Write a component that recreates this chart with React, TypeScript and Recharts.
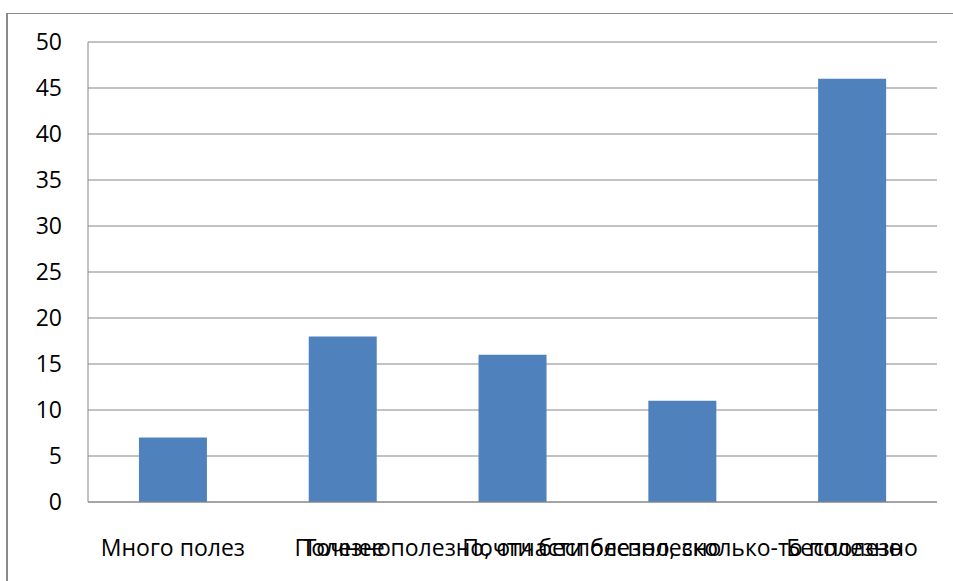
import React from "react";
import { BarChart, Bar, XAxis, YAxis, CartesianGrid } from "recharts";

// Category labels along the horizontal axis
const categories = [
  "Много полез",
  "Полезно",
  "Точнее полезно, отчасти бесполезно",
  "Почти бесполезно, сколько-то полезно",
  "Бесполезно",
];

// Bar heights per category
const values = [7, 18, 16, 11, 46];

// Value axis ticks
const yTicks = [0, 5, 10, 15, 20, 25, 30, 35, 40, 45, 50];

const data = categories.map((name, i) => ({ name, value: values[i] }));

const FONT = "'Open Sans', 'Noto Sans', sans-serif";
const AXIS = "#868686";

export default function App() {
  return (
    <div
      style={{
        position: "fixed",
        left: 0,
        top: 0,
        width: 953,
        height: 581,
        overflow: "hidden",
        background: "#ffffff",
      }}
    >
      <div
        style={{
          position: "absolute",
          left: 6,
          top: 13,
          width: 1000,
          height: 1000,
          borderLeft: "2px solid #8a8a8a",
          borderTop: "1px solid #8a8a8a",
        }}
      />
      <div style={{ position: "absolute", left: 0, top: 0 }}>
        <BarChart
          width={953}
          height={581}
          data={data}
          margin={{ top: 42, right: 16, left: 0, bottom: 0 }}
          barCategoryGap="30%"
        >
          <CartesianGrid vertical={false} stroke={AXIS} strokeWidth={1} />
          <XAxis
            dataKey="name"
            interval={0}
            tickLine={false}
            tickSize={0}
            tickMargin={38}
            axisLine={{ stroke: AXIS, strokeWidth: 1 }}
            tick={{ fill: "#000000", fontSize: 23, fontFamily: FONT }}
            height={79}
          />
          <YAxis
            type="number"
            domain={[0, 50]}
            ticks={yTicks}
            interval={0}
            width={88}
            tickLine={false}
            tickSize={0}
            tickMargin={26}
            axisLine={{ stroke: AXIS, strokeWidth: 1 }}
            tick={{ fill: "#000000", fontSize: 23, fontFamily: FONT }}
          />
          <Bar dataKey="value" fill="#4F81BD" isAnimationActive={false} />
        </BarChart>
      </div>
    </div>
  );
}
